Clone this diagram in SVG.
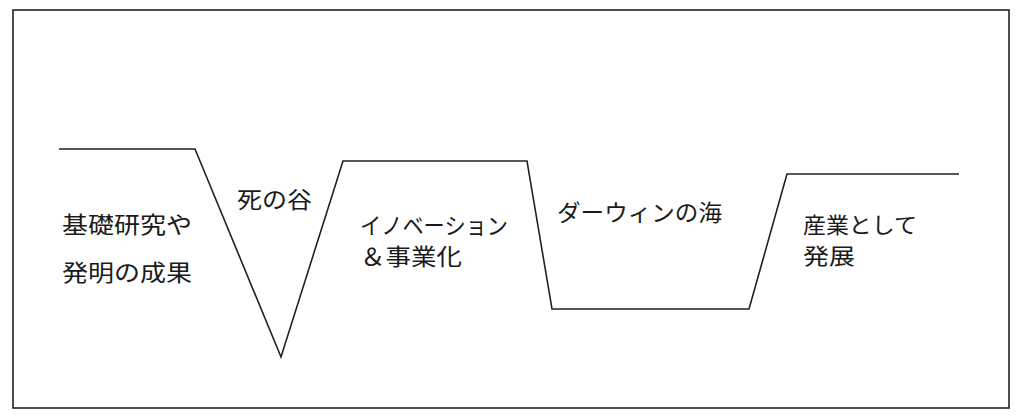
<svg xmlns="http://www.w3.org/2000/svg" width="1024" height="417" viewBox="0 0 1024 417">
<style>
.lbl{font-family:"Noto Sans CJK JP","Noto Sans CJK SC",sans-serif;font-size:23px;fill:#1a1a1a}
.sm{font-size:22px}
.ln{fill:none;stroke:#222;stroke-width:1.6;stroke-linejoin:miter}
</style>
<rect x="0" y="0" width="1024" height="417" fill="#ffffff"/>
<rect x="13" y="10" width="996" height="398" fill="none" stroke="#222" stroke-width="1.6"/>
<g id="connectors">
<polyline class="ln" points="59,149 195,149 281,357 343,161 527,161 552,309 749,309 787,174 959,174"/>
</g>
<g id="basic-research">
<text class="lbl" x="62" y="233" textLength="130" lengthAdjust="spacingAndGlyphs">基礎研究や</text>
<text class="lbl" x="62" y="281" textLength="130" lengthAdjust="spacingAndGlyphs">発明の成果</text>
</g>
<g id="valley-of-death">
<text class="lbl" x="237" y="208" textLength="75" lengthAdjust="spacingAndGlyphs">死の谷</text>
</g>
<g id="innovation">
<text class="lbl" x="360" y="234" textLength="148" lengthAdjust="spacingAndGlyphs">イノベーション</text>
<text class="lbl" x="360" y="265" textLength="102" lengthAdjust="spacingAndGlyphs">＆事業化</text>
</g>
<g id="darwinian-sea">
<text class="lbl" x="557" y="221" textLength="165" lengthAdjust="spacingAndGlyphs">ダーウィンの海</text>
</g>
<g id="industry">
<text class="lbl sm" x="803" y="233" textLength="114" lengthAdjust="spacingAndGlyphs">産業として</text>
<text class="lbl sm" x="803" y="264" textLength="52" lengthAdjust="spacingAndGlyphs">発展</text>
</g>
</svg>
